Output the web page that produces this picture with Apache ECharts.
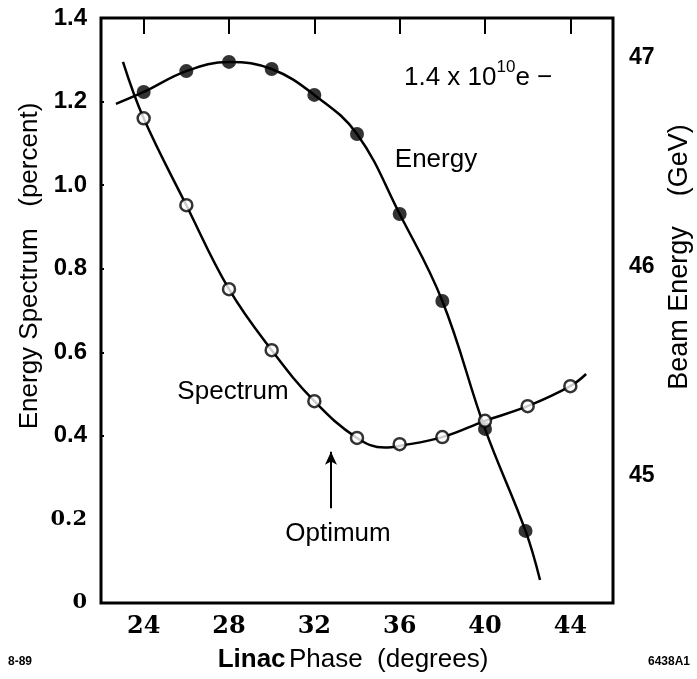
<!DOCTYPE html>
<html>
<head>
<meta charset="utf-8">
<script src="https://cdn.jsdelivr.net/npm/echarts@6/dist/echarts.min.js"></script>
<style>
  html, body { margin: 0; padding: 0; background: #fff; }
  #chart { width: 697px; height: 679px; }
</style>
</head>
<body>
<div id="chart"></div>
<script>
// linac phase (degrees) of the measured points
const phase = [24, 26, 28, 30, 32, 34, 36, 38, 40, 42, 44];
// energy spectrum width (percent), open circles
const spectrum = [1.16, 0.952, 0.751, 0.605, 0.483, 0.395, 0.38, 0.397, 0.436, 0.471, 0.519];
// beam energy (GeV), filled circles (no point at 44)
const energyPhase = [24, 26, 28, 30, 32, 34, 36, 38, 40, 41.9];
const energy = [46.837, 46.937, 46.981, 46.947, 46.823, 46.636, 46.253, 45.837, 45.225, 44.737];

// hand-drawn fit curves
const spectrumFitX = [23.03, 24, 26, 28, 30, 32, 34, 35.3, 36, 38, 40, 42, 44, 44.74];
const spectrumFitY = [1.295, 1.16, 0.952, 0.751, 0.605, 0.483, 0.395, 0.372, 0.376, 0.397, 0.436, 0.471, 0.519, 0.548];
const energyFitX = [22.7, 24, 26, 28, 30, 32, 34, 36, 38, 40, 41.9, 42.58];
const energyFitY = [46.78, 46.837, 46.937, 46.981, 46.947, 46.823, 46.636, 46.253, 45.837, 45.225, 44.737, 44.502];

const phaseTicks = [24, 28, 32, 36, 40, 44];
const spectrumTicks = [0, 0.2, 0.4, 0.6, 0.8, 1.0, 1.2, 1.4];
const energyTicks = [45, 46, 47];

const zip = (xs, ys) => xs.map((x, i) => [x, ys[i]]);

const sans = '"Liberation Sans", Arial, Helvetica, sans-serif';
const serif = '"DejaVu Serif", "Liberation Serif", serif';

const chart = echarts.init(document.getElementById('chart'), null, { renderer: 'canvas' });

const option = {
  animation: false,
  backgroundColor: '#fff',
  grid: {
    left: 101, right: 84, top: 18, bottom: 76,
    show: true, borderColor: '#000', borderWidth: 3, backgroundColor: 'transparent'
  },
  xAxis: [
    {
      type: 'value', min: 22, max: 46, position: 'bottom',
      axisLine: { show: false }, axisTick: { show: false }, splitLine: { show: false },
      axisLabel: {
        customValues: phaseTicks, margin: 12,
        fontFamily: serif, fontWeight: 'bold', fontSize: 24, color: '#000'
      }
    },
    {
      type: 'value', min: 22, max: 46, position: 'top',
      axisLine: { show: false }, splitLine: { show: false }, axisLabel: { show: false },
      axisTick: { show: true, inside: true, length: 16, customValues: phaseTicks,
        lineStyle: { color: '#000', width: 2 } }
    }
  ],
  yAxis: [
    {
      type: 'value', min: 0, max: 1.4, interval: 0.2, position: 'left',
      axisLine: { show: false }, splitLine: { show: false },
      axisTick: { show: true, inside: true, length: 3, customValues: [0.4, 0.6, 0.8, 1.0, 1.2],
        lineStyle: { color: '#000', width: 2 } },
      axisLabel: {
        customValues: spectrumTicks, margin: 14, color: '#000',
        formatter: v => (v < 0.3 ? '{r|' + (v === 0 ? '0' : v.toFixed(1)) + '}' : '{s|' + v.toFixed(1) + '}'),
        rich: {
          s: { fontFamily: sans, fontWeight: 'bold', fontSize: 24, color: '#000' },
          r: { fontFamily: serif, fontWeight: 'bold', fontSize: 21, color: '#000' }
        }
      }
    },
    {
      type: 'value', min: 44.392, max: 47.191, position: 'right',
      axisLine: { show: false }, splitLine: { show: false }, axisTick: { show: false },
      axisLabel: {
        customValues: energyTicks, margin: 16,
        fontFamily: sans, fontWeight: 'bold', fontSize: 23, color: '#000'
      }
    }
  ],
  series: [
    {
      name: 'Spectrum fit', type: 'line', xAxisIndex: 0, yAxisIndex: 0,
      data: zip(spectrumFitX, spectrumFitY), smooth: 0.4, showSymbol: false,
      lineStyle: { color: '#000', width: 2.5 }, z: 2,
      markLine: {
        silent: true, symbol: ['none', 'arrow'], symbolSize: [9, 13],
        label: { show: false },
        lineStyle: { color: '#000', width: 2, type: 'solid' },
        data: [[{ coord: [32.78, 0.227] }, { coord: [32.78, 0.362] }]]
      }
    },
    {
      name: 'Energy fit', type: 'line', xAxisIndex: 0, yAxisIndex: 1,
      data: zip(energyFitX, energyFitY), smooth: 0.4, showSymbol: false,
      lineStyle: { color: '#000', width: 2.5 }, z: 2
    },
    {
      name: 'Energy', type: 'scatter', xAxisIndex: 0, yAxisIndex: 1,
      data: zip(energyPhase, energy), symbol: 'circle', symbolSize: 14,
      itemStyle: { color: '#000' }, z: 3
    },
    {
      name: 'Spectrum', type: 'scatter', xAxisIndex: 0, yAxisIndex: 0,
      data: zip(phase, spectrum), symbol: 'circle', symbolSize: 12,
      itemStyle: { color: '#fff', borderColor: '#000', borderWidth: 2.5 }, z: 4
    }
  ],
  graphic: [
    { type: 'text', x: 30, y: 266, rotation: Math.PI / 2,
      style: { text: 'Energy Spectrum   (percent)', font: '26px ' + sans, fill: '#000',
        textAlign: 'center', textVerticalAlign: 'middle' } },
    { type: 'text', x: 680, y: 257, rotation: Math.PI / 2,
      style: { text: 'Beam Energy    (GeV)', font: '27px ' + sans, fill: '#000',
        textAlign: 'center', textVerticalAlign: 'middle' } },
    { type: 'text', x: 353, y: 660,
      style: {
        text: '{b|Linac} {n|Phase  (degrees)}', textAlign: 'center', textVerticalAlign: 'middle',
        rich: {
          b: { fontFamily: sans, fontWeight: 'bold', fontSize: 26, fill: '#000' },
          n: { fontFamily: sans, fontSize: 26, fill: '#000' }
        }
      } },
    { type: 'text', x: 436, y: 160,
      style: { text: 'Energy', font: '26px ' + sans, fill: '#000',
        textAlign: 'center', textVerticalAlign: 'middle' } },
    { type: 'text', x: 233, y: 392,
      style: { text: 'Spectrum', font: '26px ' + sans, fill: '#000',
        textAlign: 'center', textVerticalAlign: 'middle' } },
    { type: 'text', x: 338, y: 534,
      style: { text: 'Optimum', font: '26px ' + sans, fill: '#000',
        textAlign: 'center', textVerticalAlign: 'middle' } },
    { type: 'text', x: 404, y: 59,
      style: {
        text: '{n|1.4 x 10}{sup|10}{n|e \u2212}',
        rich: {
          n: { fontFamily: sans, fontSize: 26, fill: '#000', lineHeight: 38 },
          sup: { fontFamily: sans, fontSize: 17, fill: '#000', verticalAlign: 'top', lineHeight: 14 }
        }
      } },
    { type: 'text', x: 8, y: 656,
      style: { text: '8-89', font: 'bold 12px ' + sans, fill: '#000' } },
    { type: 'text', x: 648, y: 656,
      style: { text: '6438A1', font: 'bold 12px ' + sans, fill: '#000' } }
  ]
};

chart.setOption(option);
window.onresize = () => chart.resize();
</script>
</body>
</html>
